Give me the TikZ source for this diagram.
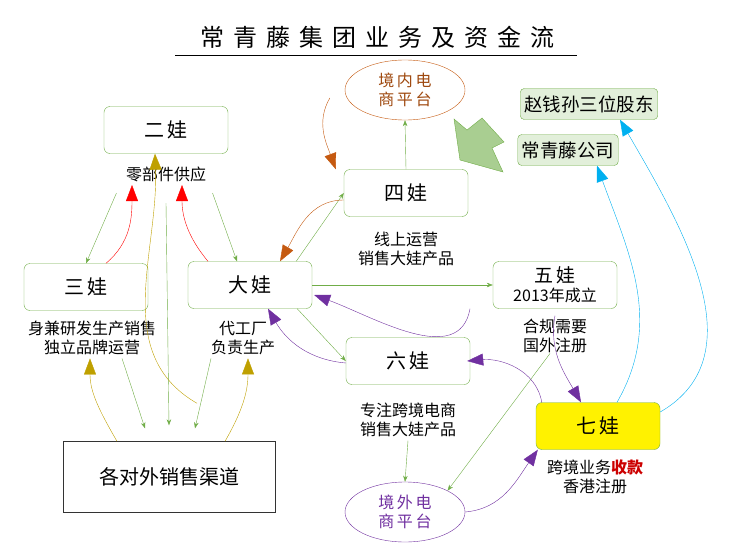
\documentclass[tikz,border=0pt]{standalone}
\usepackage{fontspec}
\setmainfont{Noto Sans CJK SC}
\usetikzlibrary{arrows.meta,positioning,shapes.geometric}
\definecolor{wagreen}{RGB}{112,173,71}
\definecolor{waolive}{RGB}{191,160,0}
\definecolor{wabrown}{RGB}{197,90,17}
\definecolor{wapurple}{RGB}{112,48,160}
\definecolor{wacyan}{RGB}{0,176,240}
\tikzset{
    wa/.style={draw=wagreen, rounded corners=6pt, minimum width=124pt, minimum height=47pt, font=\fontsize{20}{23}\selectfont},
    holder/.style={draw=wagreen, fill=wagreen!20, rounded corners=4pt, inner sep=4pt, minimum height=31pt, font=\fontsize{18.5}{21}\selectfont},
    shop/.style={ellipse, minimum width=120pt, minimum height=60pt, font=\fontsize{16}{19}\selectfont, align=center},
    note/.style={font=\fontsize{16}{19}\selectfont, align=center},
    link/.style={draw=wagreen, -{Stealth[length=6pt]}},
    flow/.style={-{Triangle[length=16pt,width=12pt]}}
}
\begin{document}
\begin{tikzpicture}[x=1pt, y=-1pt]
    \useasboundingbox (0,0) rectangle (751,559);
    % title
    \node[font=\fontsize{24}{27}\selectfont] (title) at (377,37) {常\hspace{9pt}青\hspace{9pt}藤\hspace{9pt}集\hspace{9pt}团\hspace{9pt}业\hspace{9pt}务\hspace{9pt}及\hspace{9pt}资\hspace{9pt}金\hspace{9pt}流};
    \draw (175,55) -- (577,55);

    % nodes
    \node[wa] (er) at (166,130) {二\,娃};
    \node[wa] (si) at (406,193) {四\,娃};
    \node[wa] (san) at (86,287) {三\,娃};
    \node[wa] (da) at (250,285) {大\,娃};
    \node[wa, align=center, font=\fontsize{19}{20}\selectfont] (wu) at (555,285) {五\,娃\\[-1pt]{\fontsize{16}{18}\selectfont 2013年成立}};
    \node[wa] (liu) at (408,361) {六\,娃};
    \node[wa, fill=yellow] (qi) at (598,426) {七\,娃};
    \node[draw=black!80, minimum width=212pt, minimum height=71pt, font=\fontsize{20}{23}\selectfont] (qudao) at (169,477) {各对外销售渠道};
    \node[holder] (gudong) at (589,104) {赵钱孙三位股东};
    \node[holder] (gongsi) at (568,150) {常青藤公司};
    \node[shop, draw=wabrown, text=wabrown!80!black] (neidian) at (405,90) {境\,内\,电\\商\,平\,台};
    \node[shop, draw=wapurple, text=wapurple] (waidian) at (405,512) {境\,外\,电\\商\,平\,台};

    % notes
    \node[note] (lingbu) at (166,174) {零部件供应};
    \node[note] (xianshang) at (406,249) {线上运营\\销售大娃产品};
    \node[note] (yanfa) at (92,338) {身兼研发生产销售\\独立品牌运营};
    \node[note] (daigong) at (243,338) {代工厂\\负责生产};
    \node[note] (hegui) at (555,336) {合规需要\\国外注册};
    \node[note] (kuajing) at (408,420) {专注跨境电商\\销售大娃产品};
    \node[note] (shoukuan) at (595,477) {跨境业务{\color{red!80!black}\bfseries 收款}\\香港注册};

    % big green arrow
    \fill[wagreen!60, draw=wagreen] (454,119) -- (467,130) -- (482,118) -- (504,142) -- (492,148) -- (503,172) -- (460,160) -- cycle;

    % green links
    \draw[link] (lingbu.south west) ++(-6,8) -- (san.north);
    \draw[link] (lingbu.south east) ++(3,8) -- ([xshift=-13pt]da.north);
    \draw[link] ([yshift=-18pt]lingbu.south) -- ([yshift=16pt]qudao.north);
    \draw[link] ([xshift=30pt]yanfa.south) -- ([xshift=-24pt,yshift=13pt]qudao.north);
    \draw[link] ([xshift=-32pt]daigong.south) -- ([xshift=26pt,yshift=13pt]qudao.north);
    \draw[link] (da.north east) ++(-16,0) -- (si.west);
    \draw[link] (si.north) -- (neidian.south);
    \draw[link] (da.east) -- (wu.west);
    \draw[link] ([xshift=-15pt]da.south east) -- (liu.west);
    \draw[link] (kuajing.south) -- (waidian.north);
    \draw[link] ([xshift=-5pt]hegui.south) ++(0,-3) -- (waidian.north east);

    % red and olive curves
    \draw[red, flow] ([xshift=20pt]san.north) to[out=40, in=-90] ([xshift=-34pt]lingbu.south);
    \draw[red, flow] ([xshift=-42pt]da.north) to[out=130, in=-90] ([xshift=16pt]lingbu.south);
    \draw[waolive, flow] ([xshift=-52pt]qudao.north) to[out=120, in=-90] ([xshift=-2pt]yanfa.south);
    \draw[waolive, flow] ([xshift=56pt]qudao.north) to[out=60, in=-90] ([xshift=5pt]daigong.south);
    \draw[waolive, flow] ([xshift=28pt,yshift=38pt]qudao.north) to[out=150, in=-88] ([xshift=-11pt]er.south);

    % brown curves
    \draw[wabrown, flow] (neidian.west) ++(-15,8) to[out=-120, in=110] ([xshift=-8pt]si.north west);
    \draw[wabrown, flow] ([yshift=-7pt]si.west) to[out=180, in=60] ([xshift=30pt]da.north);

    % purple curves
    \draw[wapurple, flow] ([xshift=-85pt]wu.south) to[out=-100, in=-20] ([xshift=2pt,yshift=-10pt]da.east);
    \draw[wapurple, flow] ([yshift=-2pt]liu.west) to[out=175, in=-60] ([xshift=18pt]da.south);
    \draw[wapurple, flow] (qi.north west) ++(6,0) to[out=100, in=5] ([xshift=-3pt]liu.east);
    \draw[wapurple, flow] (hegui.north) to[out=-100, in=120] ([xshift=-17pt]qi.north);
    \draw[wapurple, flow] (waidian.east) to[out=5, in=-125] ([xshift=2pt]qi.south west);

    % cyan curves
    \draw[wacyan, flow] ([xshift=19pt]qi.north) to[out=60, in=-70] ([xshift=29pt]gongsi.south);
    \draw[wacyan, flow] ([yshift=14pt]qi.east) to[out=30, in=-60] ([xshift=31pt]gudong.south);
\end{tikzpicture}
\end{document}
